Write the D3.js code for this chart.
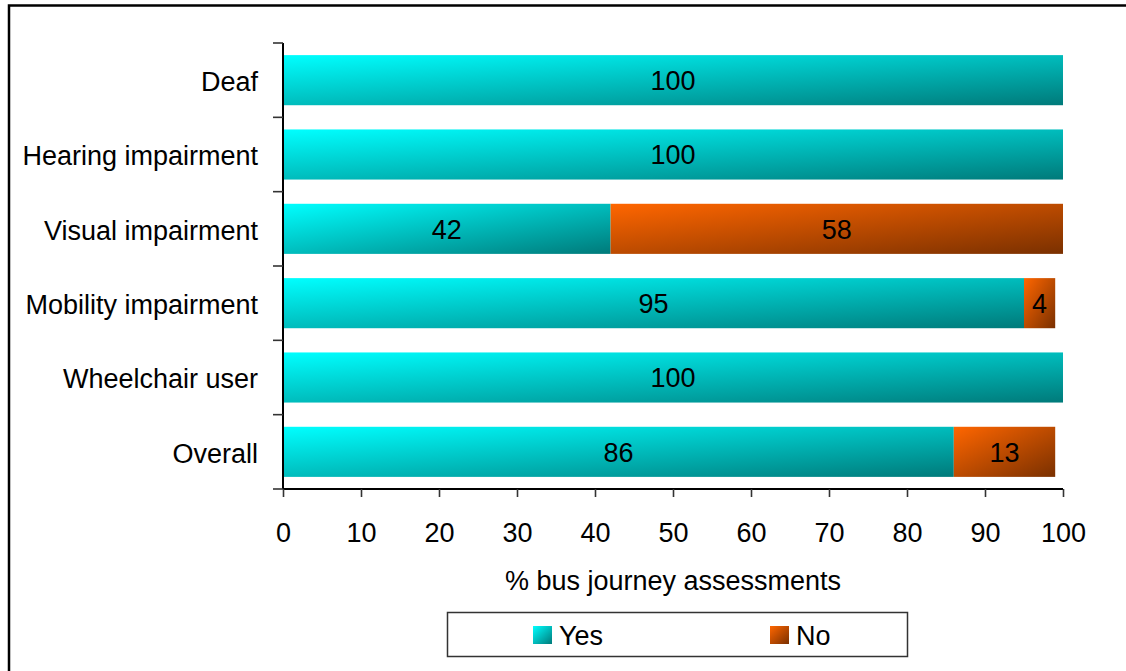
<!DOCTYPE html>
<html><head><meta charset="utf-8">
<script src="https://cdn.jsdelivr.net/npm/d3@7"></script>
<style>body{margin:0;background:#fff}svg{display:block}text{font-family:Arial,"Liberation Sans",sans-serif}</style>
</head><body>
<script>
const categories = ["Deaf","Hearing impairment","Visual impairment","Mobility impairment","Wheelchair user","Overall"];
const yesValues = [100,100,42,95,100,86];
const noValues = [0,0,58,4,0,13];
const seriesNames = ["Yes","No"];
const xTicks = [0,10,20,30,40,50,60,70,80,90,100];
const xTitle = "% bus journey assessments";

const W = 1126, H = 671;
const FS = "27px";
const svg = d3.select("body").append("svg").attr("width", W).attr("height", H);

const defs = svg.append("defs");
function grad(id, c1, c2){
  const g = defs.append("linearGradient").attr("id", id).attr("x1",0).attr("y1",0).attr("x2",1).attr("y2",1);
  g.append("stop").attr("offset","0%").attr("stop-color",c1);
  g.append("stop").attr("offset","100%").attr("stop-color",c2);
}
grad("gYes","#00ffff","#007a7a");
grad("gNo","#ff6600","#7a3000");

// outer border
svg.append("path").attr("d","M9,671 L9,5.5 L1126,5.5").attr("fill","none").attr("stroke","#000").attr("stroke-width",2.5);

const x = d3.scaleLinear().domain([0,100]).range([283,1063]);
const y = d3.scaleBand().domain(categories).range([43,489]).paddingInner(0.326).paddingOuter(0.163);

const rows = categories.map((c,i)=>({cat:c, yes:yesValues[i], no:noValues[i]}));

const segs = [];
rows.forEach(r=>{
  segs.push({cat:r.cat, x0:0, x1:r.yes, v:r.yes, s:"Yes"});
  if (r.no>0) segs.push({cat:r.cat, x0:r.yes, x1:r.yes+r.no, v:r.no, s:"No"});
});

svg.append("g").selectAll("rect").data(segs).join("rect")
  .attr("x", d=>x(d.x0)).attr("y", d=>y(d.cat))
  .attr("width", d=>x(d.x1)-x(d.x0)).attr("height", y.bandwidth())
  .attr("fill", d=> d.s==="Yes" ? "url(#gYes)" : "url(#gNo)");

svg.append("g").selectAll("text").data(segs).join("text")
  .attr("x", d=>(x(d.x0)+x(d.x1))/2).attr("y", d=>y(d.cat)+y.bandwidth()/2)
  .attr("dy","0.36em").attr("text-anchor","middle")
  .style("font-size",FS).attr("fill","#000").text(d=>d.v);

// y axis
const yAxisG = svg.append("g");
yAxisG.append("line").attr("x1",283).attr("x2",283).attr("y1",43).attr("y2",489).attr("stroke","#000").attr("stroke-width",2);
const bounds = categories.map(c=>y(c)-y.step()*y.paddingInner()/2).concat([489]);
bounds[0]=43;
yAxisG.selectAll("line.t").data(bounds).join("line").attr("class","t")
  .attr("x1",273).attr("x2",283).attr("y1",d=>d).attr("y2",d=>d)
  .attr("stroke","#333").attr("stroke-width",1.6);
yAxisG.selectAll("text").data(categories).join("text")
  .attr("x",258).attr("y",d=>y(d)+y.bandwidth()/2+1).attr("dy","0.36em")
  .attr("text-anchor","end").style("font-size",FS).text(d=>d);

// x axis
const xAxis = d3.axisBottom(x).tickValues(xTicks).tickSize(8).tickPadding(26).tickFormat(d3.format("d"));
const xg = svg.append("g").attr("transform","translate(0,489)").call(xAxis);
xg.select(".domain").attr("stroke","#000").attr("stroke-width",2).attr("d","M283,0H1063");
xg.selectAll(".tick line").attr("stroke","#333").attr("stroke-width",1.6);
xg.selectAll(".tick text").style("font-size",FS).style("font-family","Arial, 'Liberation Sans', sans-serif").attr("fill","#000");

svg.append("text").attr("x",673).attr("y",580).attr("dy","0.36em").attr("text-anchor","middle").style("font-size",FS).text(xTitle);

// legend
const lg = svg.append("g");
lg.append("rect").attr("x",447.5).attr("y",612.5).attr("width",460).attr("height",44).attr("fill","#fff").attr("stroke","#333").attr("stroke-width",1.5);
const legX = [533, 770];
lg.selectAll("rect.sw").data(seriesNames).join("rect").attr("class","sw")
  .attr("x",(d,i)=>legX[i]).attr("y",626).attr("width",19).attr("height",18)
  .attr("fill",d=> d==="Yes" ? "url(#gYes)" : "url(#gNo)");
lg.selectAll("text").data(seriesNames).join("text")
  .attr("x",(d,i)=>legX[i]+26).attr("y",635).attr("dy","0.36em").style("font-size",FS).text(d=>d);
</script>
</body></html>
